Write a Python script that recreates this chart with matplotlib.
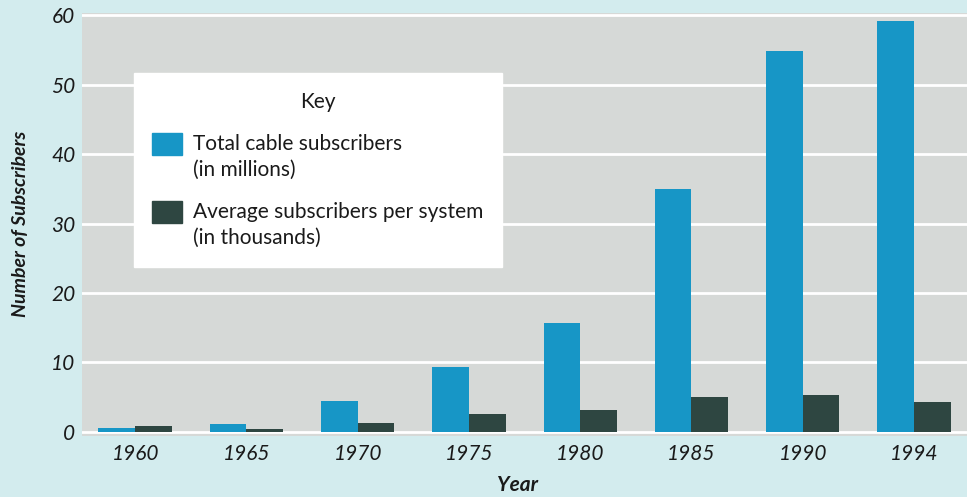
import matplotlib.pyplot as plt
from matplotlib.patches import Patch, Rectangle
from matplotlib.legend_handler import HandlerPatch

years = ["1960", "1965", "1970", "1975", "1980", "1985", "1990", "1994"]
total_millions = [0.6, 1.2, 4.5, 9.4, 15.7, 35.0, 54.8, 59.1]
avg_thousands = [0.9, 0.4, 1.3, 2.5, 3.2, 5.0, 5.3, 4.3]

bg = "#d3ecee"
plot_bg = "#d6d9d7"
blue = "#1796c6"
dark = "#2e4641"
txt = "#1a1a1a"

plt.rcParams["font.family"] = ["Lato", "DejaVu Sans"]


def raised_patch(legend, orig_handle, xdescent, ydescent, width, height, fontsize):
    # put the swatch next to the first line of the label
    return Rectangle((-xdescent, -ydescent + 0.65 * fontsize), width, height)


fig = plt.figure(figsize=(9.67, 4.97), dpi=100, facecolor=bg)
ax = fig.add_axes([0.085, 0.1227, 0.915, 0.851])
ax.set_facecolor(plot_bg)

x = list(range(len(years)))
w = 0.33
ax.bar([i - w / 2 for i in x], total_millions, width=w, color=blue, zorder=3)
ax.bar([i + w / 2 for i in x], avg_thousands, width=w, color=dark, zorder=3)

ax.set_xlim(-0.476, 7.476)
ax.set_ylim(-0.6, 60.3)
ax.set_yticks([0, 10, 20, 30, 40, 50, 60])
ax.set_xticks(x)
ax.set_xticklabels(years)
ax.tick_params(length=0, labelsize=15, labelcolor=txt)
ax.tick_params(axis="y", pad=5)
ax.tick_params(axis="x", pad=6)
for lab in ax.get_xticklabels() + ax.get_yticklabels():
    lab.set_style("italic")
ax.grid(axis="y", color="white", linewidth=2, zorder=1)
for s in ax.spines.values():
    s.set_visible(False)

fig.text(0.021, 0.55, "Number of Subscribers", rotation=90, ha="center", va="center",
         fontsize=14, fontweight="bold", style="italic", color=txt)
fig.text(0.535, 0.024, "Year", ha="center", va="center",
         fontsize=15, fontweight="bold", style="italic", color=txt)

handles = [Patch(color=blue), Patch(color=dark)]
labels = ["Total cable subscribers\n(in millions)",
          "Average subscribers per system\n(in thousands)"]
leg = ax.legend(handles, labels, title="Key", loc="upper left",
                bbox_to_anchor=(0.058, 0.858), fontsize=15, title_fontsize=15,
                frameon=True, fancybox=False, framealpha=1, edgecolor="white",
                handlelength=1.44, handleheight=1.25, labelspacing=1.05,
                borderpad=0.9, handletextpad=0.5, borderaxespad=0,
                handler_map={Patch: HandlerPatch(patch_func=raised_patch)})
leg.get_frame().set_facecolor("white")
leg.set_zorder(5)
leg.get_title().set_color(txt)
for t in leg.get_texts():
    t.set_color(txt)
    t.set_linespacing(1.38)
leg._legend_box.align = "center"

fig.savefig("out.png", dpi=100, facecolor=bg)
